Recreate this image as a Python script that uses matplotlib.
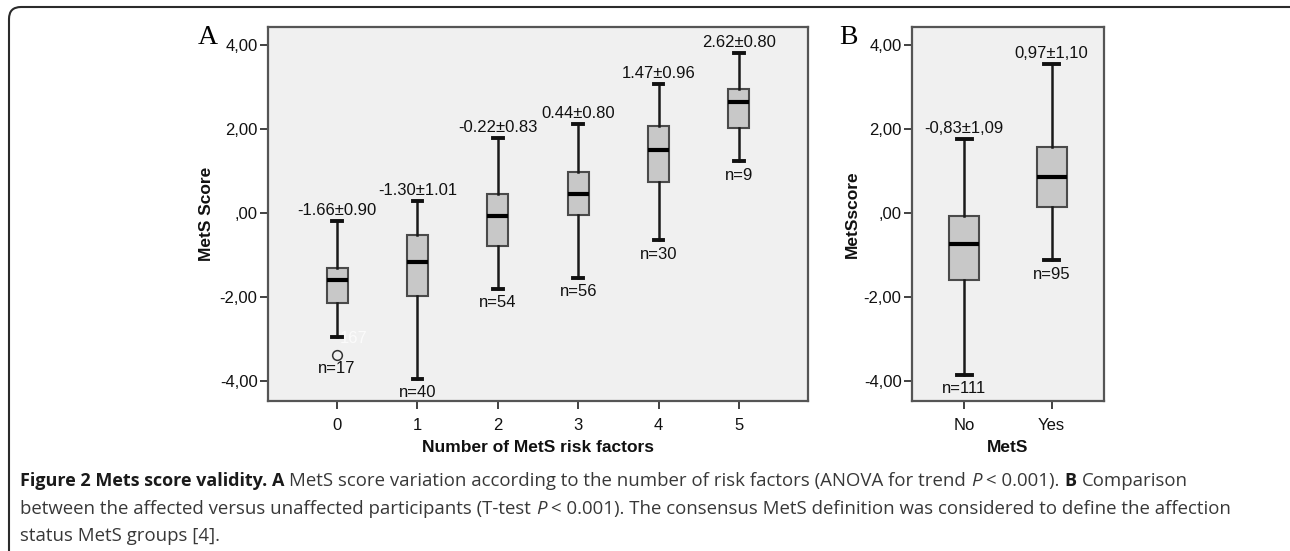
import matplotlib
matplotlib.use('Agg')
import matplotlib.pyplot as plt
from matplotlib.patches import FancyBboxPatch

# panel A: MetS score by number of risk factors
groups_a = ['0', '1', '2', '3', '4', '5']
med_a = [-1.58, -1.16, -0.07, 0.45, 1.50, 2.66]
q1_a = [-2.14, -1.97, -0.78, -0.05, 0.74, 2.04]
q3_a = [-1.29, -0.52, 0.47, 0.99, 2.07, 2.97]
lo_a = [-2.94, -3.94, -1.80, -1.54, -0.64, 1.24]
hi_a = [-0.17, 0.30, 1.80, 2.14, 3.09, 3.82]
fliers_a = [[-3.37], [], [], [], [], []]
flier_ids_a = ['167']
mean_sd_a = ['-1.66\u00b10.90', '-1.30\u00b11.01', '-0.22\u00b10.83',
             '0.44\u00b10.80', '1.47\u00b10.96', '2.62\u00b10.80']
n_a = [17, 40, 54, 56, 30, 9]

# panel B: MetS no / yes
groups_b = ['No', 'Yes']
med_b = [-0.74, 0.86]
q1_b = [-1.59, 0.14]
q3_b = [-0.07, 1.59]
lo_b = [-3.85, -1.12]
hi_b = [1.78, 3.56]
mean_sd_b = ['-0,83\u00b11,09', '0,97\u00b11,10']
n_b = [111, 95]

yticks = [-4, -2, 0, 2, 4]
ytick_labels = ['-4,00', '-2,00', ',00', '2,00', '4,00']

W, H = 1290, 551
fig = plt.figure(figsize=(W / 100, H / 100), dpi=100)
fig.patch.set_facecolor('white')

sans = ['Liberation Sans', 'DejaVu Sans']
serif = ['Liberation Serif', 'DejaVu Serif']
cap_font = ['Open Sans', 'DejaVu Sans']
lab_size = 12


def boxpanel(ax, groups, med, q1, q3, lo, hi, fliers, width, capw):
    stats = []
    for i in range(len(groups)):
        stats.append(dict(med=med[i], q1=q1[i], q3=q3[i], whislo=lo[i],
                          whishi=hi[i], fliers=fliers[i]))
    ax.bxp(stats, positions=range(len(groups)), widths=width, capwidths=capw,
           patch_artist=True, showfliers=True,
           boxprops=dict(facecolor='#c8c8c8', edgecolor='#4a4a4a', linewidth=1.5),
           medianprops=dict(color='black', linewidth=3, solid_capstyle='butt'),
           whiskerprops=dict(color='#1a1a1a', linewidth=1.8),
           capprops=dict(color='#111111', linewidth=2.8),
           flierprops=dict(marker='o', markerfacecolor='none',
                           markeredgecolor='#333333', markersize=7, markeredgewidth=1.1))
    ax.set_facecolor('#f0f0f0')
    for s in ax.spines.values():
        s.set_color('#555555')
        s.set_linewidth(1.6)
    ax.set_ylim(-4.47, 4.44)
    ax.set_yticks(yticks)
    ax.set_yticklabels(ytick_labels)
    ax.set_xticks(range(len(groups)))
    ax.set_xticklabels(groups)
    ax.tick_params(direction='out', length=6, width=1.3, color='#333333',
                   labelsize=lab_size, labelcolor='#111111', pad=1.5)
    ax.tick_params(axis='x', pad=6)
    for lab in ax.get_xticklabels() + ax.get_yticklabels():
        lab.set_family(sans)


def annotate_panel(ax, mean_sd, n, lo, hi, fliers):
    for i in range(len(mean_sd)):
        ax.annotate(mean_sd[i], (i, hi[i]), xytext=(0, 7.5), textcoords='offset points',
                    ha='center', va='center', fontsize=lab_size, family=sans, color='#111111')
        low = min([lo[i]] + list(fliers[i]))
        ax.annotate('n=%d' % n[i], (i, low), xytext=(0, -10), textcoords='offset points',
                    ha='center', va='center', fontsize=lab_size, family=sans, color='#111111')


# panel A
axA = fig.add_axes([268 / W, 1 - 401 / H, 540 / W, 374 / H])
boxpanel(axA, groups_a, med_a, q1_a, q3_a, lo_a, hi_a, fliers_a, 0.26, 0.12)
axA.set_xlim(-0.86, 5.86)
annotate_panel(axA, mean_sd_a, n_a, lo_a, hi_a, fliers_a)
axA.annotate(flier_ids_a[0], (0, fliers_a[0][0]), xytext=(12, 12), textcoords='offset points',
             ha='center', va='center', fontsize=lab_size, family=sans, color='#fbfbfb')
axA.set_ylabel('MetS Score', fontsize=12.5, fontweight='bold', family=sans, color='#111111')
axA.yaxis.set_label_coords(-0.100, 0.5)
axA.set_xlabel('Number of MetS risk factors', fontsize=12.5, fontweight='bold', family=sans,
               color='#111111')
axA.xaxis.set_label_coords(0.5, -0.104)
fig.text(208 / W, 1 - 37 / H, 'A', fontsize=20, family=serif, ha='center', va='center')

# panel B
axB = fig.add_axes([912 / W, 1 - 401 / H, 192 / W, 374 / H])
boxpanel(axB, groups_b, med_b, q1_b, q3_b, lo_b, hi_b, [[], []], 0.345, 0.17)
axB.set_xlim(-0.6, 1.6)
annotate_panel(axB, mean_sd_b, n_b, lo_b, hi_b, [[], []])
axB.set_ylabel('MetSscore', fontsize=12.5, fontweight='bold', family=sans, color='#111111')
axB.yaxis.set_label_coords(-0.27, 0.5)
axB.set_xlabel('MetS', fontsize=12.5, fontweight='bold', family=sans, color='#111111')
axB.xaxis.set_label_coords(0.5, -0.104)
fig.text(848 / W, 1 - 38 / H, 'B', fontsize=20, family=serif, ha='center', va='center')

# frame: open rounded box, top-left corner only visible
frame = FancyBboxPatch((9, -200), 1500, H - 7 + 200, boxstyle='round,pad=0,rounding_size=12',
                       transform=None, facecolor='none', edgecolor='#2b2b2b', linewidth=1.5)
fig.patches.append(frame)

# caption
cap_lines = [
    [('Figure 2 Mets score validity.', 'bold', 'normal', False),
     ('A', 'bold', 'normal', True),
     ('MetS score variation according to the number of risk factors (ANOVA for trend',
      'normal', 'normal', True),
     ('P', 'normal', 'italic', True),
     ('< 0.001).', 'normal', 'normal', True),
     ('B', 'bold', 'normal', True),
     ('Comparison', 'normal', 'normal', True)],
    [('between the affected versus unaffected participants (T-test', 'normal', 'normal', False),
     ('P', 'normal', 'italic', True),
     ('< 0.001). The consensus MetS definition was considered to define the affection',
      'normal', 'normal', True)],
    [('status MetS groups [4].', 'normal', 'normal', False)],
]
cap_y = [481, 509, 536]
cap_size = {'bold': 13, 'normal': 13.45}

renderer = fig.canvas.get_renderer()


def text_w(s, weight, style):
    t = fig.text(0, 0, s, fontsize=cap_size[weight], fontweight=weight, style=style,
                 family=cap_font)
    w = t.get_window_extent(renderer).width
    t.remove()
    return w


space_w = text_w('x x', 'normal', 'normal') - text_w('xx', 'normal', 'normal')

for runs, yy in zip(cap_lines, cap_y):
    x = 20.0
    for s, weight, style, sp in runs:
        if sp:
            x += space_w
        col = '#1a1a1a' if weight == 'bold' else '#383838'
        t = fig.text(x / W, 1 - yy / H, s, fontsize=cap_size[weight], fontweight=weight,
                     style=style, family=cap_font, va='center', ha='left', color=col)
        x += t.get_window_extent(renderer).width

fig.savefig('out.png', dpi=100, facecolor='white')
